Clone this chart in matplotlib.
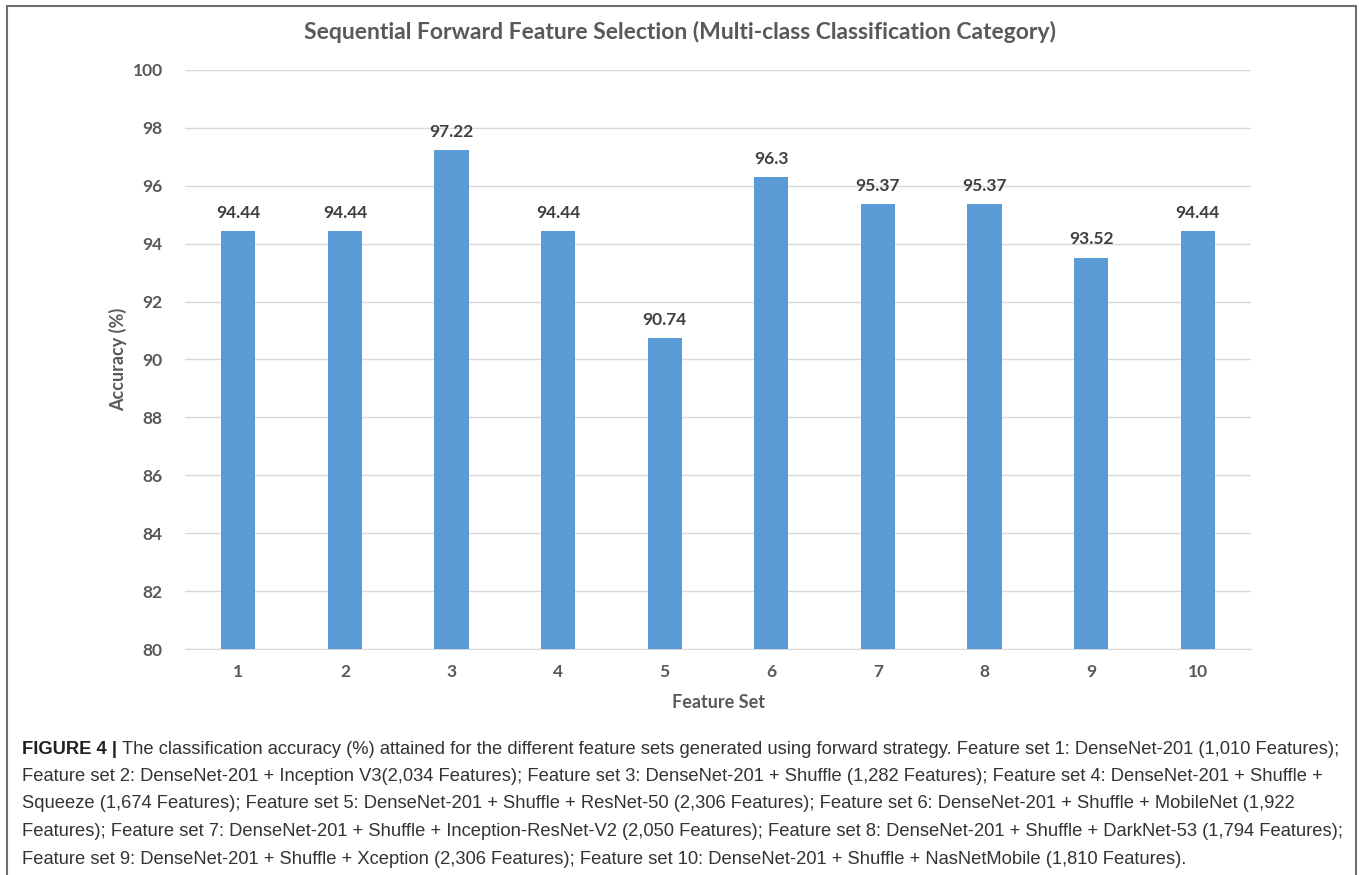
import matplotlib.pyplot as plt
from matplotlib.patches import Rectangle

# data
feature_sets = ['1', '2', '3', '4', '5', '6', '7', '8', '9', '10']
accuracy = [94.44, 94.44, 97.22, 94.44, 90.74, 96.3, 95.37, 95.37, 93.52, 94.44]
value_labels = ['94.44', '94.44', '97.22', '94.44', '90.74', '96.3', '95.37', '95.37', '93.52', '94.44']
y_ticks = [80, 82, 84, 86, 88, 90, 92, 94, 96, 98, 100]

caption_lines = [
    'The classification accuracy (%) attained for the different feature sets generated using forward strategy. Feature set 1: DenseNet-201 (1,010 Features);',
    'Feature set 2: DenseNet-201 + Inception V3(2,034 Features); Feature set 3: DenseNet-201 + Shuffle (1,282 Features); Feature set 4: DenseNet-201 + Shuffle +',
    'Squeeze (1,674 Features); Feature set 5: DenseNet-201 + Shuffle + ResNet-50 (2,306 Features); Feature set 6: DenseNet-201 + Shuffle + MobileNet (1,922',
    'Features); Feature set 7: DenseNet-201 + Shuffle + Inception-ResNet-V2 (2,050 Features); Feature set 8: DenseNet-201 + Shuffle + DarkNet-53 (1,794 Features);',
    'Feature set 9: DenseNet-201 + Shuffle + Xception (2,306 Features); Feature set 10: DenseNet-201 + Shuffle + NasNetMobile (1,810 Features).',
]

W, H = 1360, 875
chart_font = ['Lato', 'DejaVu Sans']
caption_font = ['Liberation Sans', 'DejaVu Sans']
grey = '#595959'

fig = plt.figure(figsize=(W / 100, H / 100), dpi=100)

# outer frame
fig.patches.append(Rectangle((7 / W, -0.01), 1349 / W, 1 - 6 / H + 0.01,
                             transform=fig.transFigure, fill=False,
                             edgecolor='#6e6e6e', linewidth=1.5))

ax = fig.add_axes([185 / W, 1 - 649 / H, (1251 - 185) / W, (649 - 70) / H])

x = range(len(feature_sets))
ax.bar(x, accuracy, width=0.32, color='#5B9BD5', zorder=3)
for xi, v, lab in zip(x, accuracy, value_labels):
    ax.text(xi, v + 0.35, lab, ha='center', va='bottom', fontsize=12.5,
            fontweight='bold', color='#404040', family=chart_font)

ax.set_xlim(-0.5, len(feature_sets) - 0.5)
ax.set_ylim(80, 100)
ax.set_yticks(y_ticks)
ax.set_xticks(list(x))
ax.set_xticklabels(feature_sets)
ax.grid(axis='y', color='#d9d9d9', linewidth=1, zorder=0)
for side in ['top', 'right', 'left']:
    ax.spines[side].set_visible(False)
ax.spines['bottom'].set_color('#d9d9d9')
ax.tick_params(length=0, labelsize=12.5, labelcolor=grey)
ax.tick_params(axis='x', pad=11)
ax.tick_params(axis='y', pad=16)
for lab in ax.get_xticklabels() + ax.get_yticklabels():
    lab.set_fontweight('bold')
    lab.set_family(chart_font)

ax.set_xlabel('Feature Set', fontsize=13, fontweight='bold', color=grey,
              family=chart_font, labelpad=10)
ax.set_ylabel('Accuracy (%)', fontsize=13, fontweight='bold', color=grey,
              family=chart_font, labelpad=4)

fig.text(0.5, 1 - 32 / H, 'Sequential Forward Feature Selection (Multi-class Classification Category)',
         ha='center', va='center', fontsize=16.5, fontweight='bold', color=grey,
         family=chart_font)

# caption below the chart
y0 = 749
dy = 27.5
t = fig.text(22 / W, 1 - y0 / H, 'FIGURE 4 | ', fontsize=13.2, fontweight='bold',
             color='#231f20', family=caption_font, va='center')
fig.canvas.draw()
bb = t.get_window_extent()
fig.text(bb.x1 / W, 1 - y0 / H, caption_lines[0], fontsize=13.2, color='#333333',
         family=caption_font, va='center')
for i, line in enumerate(caption_lines[1:], start=1):
    fig.text(22 / W, 1 - (y0 + i * dy) / H, line, fontsize=13.2, color='#333333',
             family=caption_font, va='center')

fig.savefig('out.png', dpi=100)
